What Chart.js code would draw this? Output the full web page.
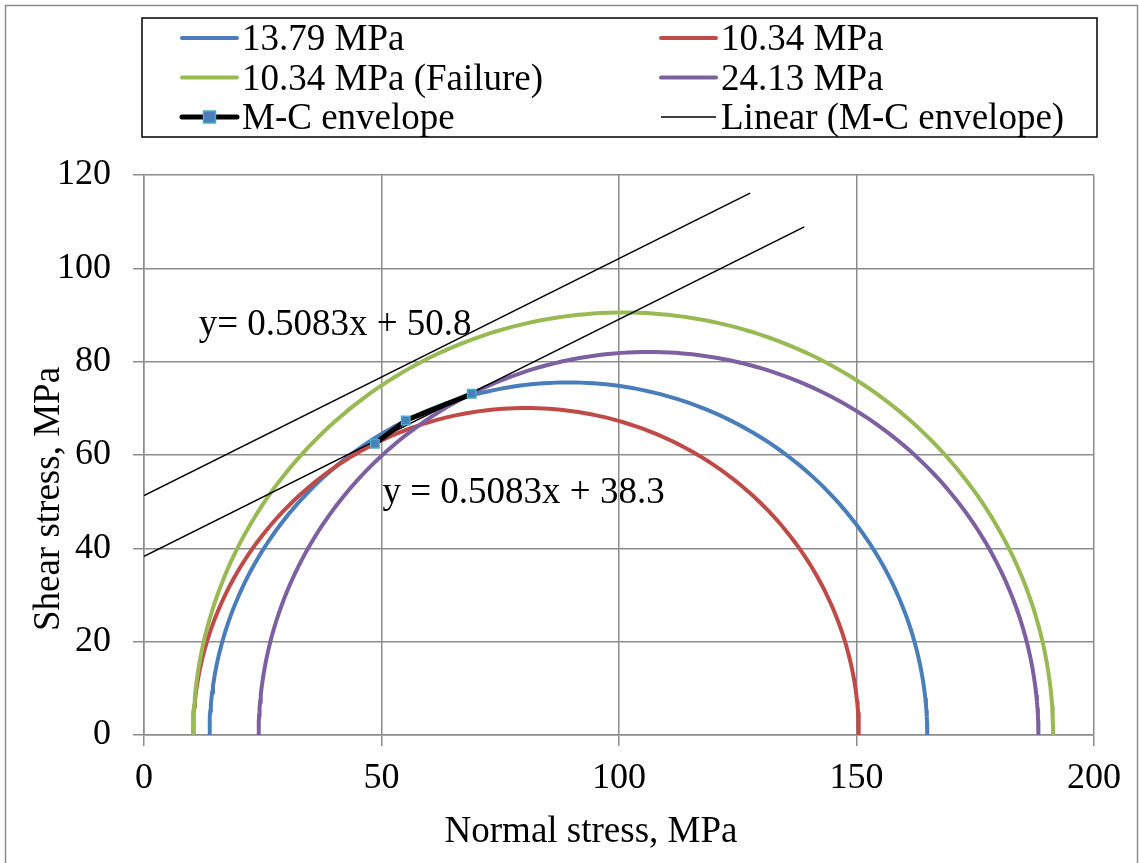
<!DOCTYPE html>
<html lang="en">
<head>
<meta charset="UTF-8">
<title>Mohr circles and M-C envelope</title>
<script src="https://cdn.jsdelivr.net/npm/chart.js@4"></script>
<style>
  html, body { margin: 0; padding: 0; background: #fff; }
  canvas { display: block; }
</style>
</head>
<body>
<canvas id="chart" width="1139" height="863"></canvas>
<script>
// ---------- Data ----------

const circleLabels = ['13.79 MPa', '10.34 MPa', '10.34 MPa (Failure)', '24.13 MPa'];
const sigma3 = [13.79, 10.34, 10.34, 24.13];   // left end of each Mohr circle
const sigma1 = [164.9, 150.5, 191.4, 188.3];   // right end of each Mohr circle

const envelopeX = [48.6, 55.1, 69.0];
const envelopeY = [62.4, 67.4, 73.1];

const trendX = [0, 139];
const trendY = [38.3, 108.9];
const shiftedX = [0, 127.6];
const shiftedY = [51.3, 116.1];

const equationLabels = ['y= 0.5083x + 50.8', 'y = 0.5083x + 38.3'];

const xTicks = [0, 50, 100, 150, 200];
const yTicks = [0, 20, 40, 60, 80, 100, 120];

// ---------- Styles ----------

const FONT = '"Liberation Serif", "Times New Roman", serif';
const GRID = '#8c8c8c';
const circleColors = ['#4a7ebb', '#be4b48', '#98b954', '#7d60a0'];

// Mohr circle from its two principal stresses (upper half)
function mohr(s3, s1) {
  const c = (s1 + s3) / 2, r = (s1 - s3) / 2;
  const pts = [];
  for (let a = 0; a <= 180; a++) {
    const t = a * Math.PI / 180;
    pts.push({ x: c - r * Math.cos(t), y: r * Math.sin(t) });
  }
  return pts;
}

const zip = (xs, ys) => xs.map((x, i) => ({ x, y: ys[i] }));

const datasets = [
  ...circleLabels.map((label, i) => ({
    label,
    data: mohr(sigma3[i], sigma1[i]),
    borderColor: circleColors[i],
    borderWidth: 4,
    pointRadius: 0,
    showLine: true,
    order: 5 - i,
  })),
  {
    label: 'M-C envelope',
    data: zip(envelopeX, envelopeY),
    borderColor: '#000',
    borderWidth: 5,
    showLine: true,
    pointStyle: 'rect',
    pointRadius: 6,
    pointBackgroundColor: '#4a7ebb',
    pointBorderColor: '#4bacc6',
    pointBorderWidth: 1.5,
    order: 0,
  },
  {
    label: 'Linear (M-C envelope)',
    data: zip(trendX, trendY),
    borderColor: '#000',
    borderWidth: 1.5,
    pointRadius: 0,
    showLine: true,
    order: 1,
  },
  {
    label: 'shifted',
    data: zip(shiftedX, shiftedY),
    borderColor: '#000',
    borderWidth: 1.5,
    pointRadius: 0,
    showLine: true,
    order: 1,
  },
];

// legend in Excel's two-column order
const legendItems = [
  { text: circleLabels[0], color: circleColors[0], width: 4 },
  { text: circleLabels[1], color: circleColors[1], width: 4 },
  { text: circleLabels[2], color: circleColors[2], width: 4 },
  { text: circleLabels[3], color: circleColors[3], width: 4 },
  { text: 'M-C envelope', color: '#000', width: 5, marker: true },
  { text: 'Linear (M-C envelope)', color: '#000', width: 1.5 },
];

const decorations = {
  id: 'decorations',
  afterDraw(chart) {
    const ctx = chart.ctx;
    const xs = chart.scales.x, ys = chart.scales.y;
    ctx.save();

    // outer chart border
    ctx.strokeStyle = GRID;
    ctx.lineWidth = 1.5;
    ctx.strokeRect(5.5, 5.5, 1132, 900);

    // legend box
    ctx.strokeStyle = '#000';
    ctx.lineWidth = 1.5;
    ctx.strokeRect(142, 18, 955, 119);
    const cols = [182, 661], rows = [38, 77.5, 117];
    ctx.font = '37px ' + FONT;
    ctx.textAlign = 'left';
    ctx.textBaseline = 'alphabetic';
    legendItems.forEach((it, i) => {
      const x = cols[i % 2], y = rows[Math.floor(i / 2)];
      ctx.beginPath();
      ctx.moveTo(x, y);
      ctx.lineTo(x + 55, y);
      ctx.strokeStyle = it.color;
      ctx.lineWidth = it.width;
      ctx.lineCap = it.width > 2 ? 'round' : 'butt';
      ctx.stroke();
      if (it.marker) {
        ctx.fillStyle = '#4a7ebb';
        ctx.strokeStyle = '#4bacc6';
        ctx.lineWidth = 1.5;
        ctx.fillRect(x + 21.5, y - 6, 12, 12);
        ctx.strokeRect(x + 21.5, y - 6, 12, 12);
      }
      ctx.fillStyle = '#000';
      ctx.fillText(it.text, x + 60, y + 12);
    });

    // trendline equations
    const eqPos = [[11.5, 85.7], [50.2, 49.7]];
    equationLabels.forEach((t, i) => {
      ctx.fillText(t, xs.getPixelForValue(eqPos[i][0]), ys.getPixelForValue(eqPos[i][1]));
    });

    // axis titles
    ctx.textAlign = 'center';
    ctx.fillText('Normal stress, MPa', 591, 842);
    ctx.translate(59, 499);
    ctx.rotate(-Math.PI / 2);
    ctx.fillText('Shear stress, MPa', 0, 0);
    ctx.restore();
  },
};

const axisBase = (ticks, min, max) => ({
  type: 'linear',
  min, max,
  afterBuildTicks: s => { s.ticks = ticks.map(v => ({ value: v })); },
  grid: { color: GRID, lineWidth: 1.5, tickLength: 11, tickColor: GRID },
  border: { color: GRID, width: 1.5 },
  ticks: { color: '#000', font: { family: FONT, size: 36 } },
});

const xAxis = axisBase(xTicks, 0, 200);
xAxis.ticks.padding = 11;
xAxis.ticks.maxRotation = 0;
xAxis.afterFit = s => { s.height = 128; };

const yAxis = axisBase(yTicks, 0, 120);
yAxis.ticks.padding = 22;
yAxis.afterFit = s => { s.width = 144; };

new Chart(document.getElementById('chart'), {
  type: 'scatter',
  data: { datasets },
  options: {
    responsive: false,
    animation: false,
    layout: { padding: { top: 175, right: 45, left: 0, bottom: 0 } },
    plugins: { legend: { display: false }, tooltip: { enabled: false } },
    elements: { line: { tension: 0 } },
    scales: { x: xAxis, y: yAxis },
  },
  plugins: [decorations],
});
</script>
</body>
</html>
